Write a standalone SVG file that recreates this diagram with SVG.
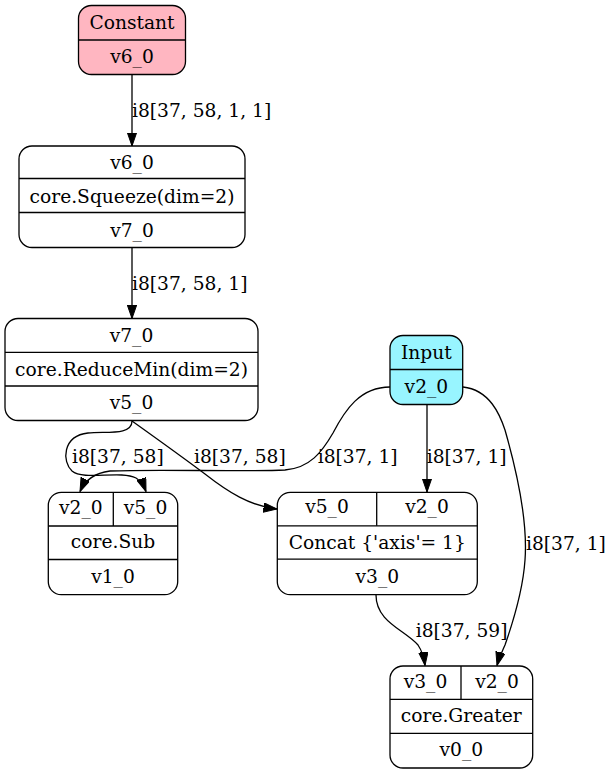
<svg xmlns="http://www.w3.org/2000/svg" width="611" height="774" viewBox="0 0 611 774">
  <style>
    text { font-family: "DejaVu Serif", "Liberation Serif", serif; font-size: 18.67px; fill: #000; }
    .c { text-anchor: middle; }
    .box { stroke: #000; stroke-width: 1.3; fill: #fff; }
    .sep { stroke: #000; stroke-width: 1.3; fill: none; }
    .edge { stroke: #000; stroke-width: 1.3; fill: none; marker-end: url(#arrow); }
    .const { fill: #ffb6c1; }
    .input { fill: #98f5ff; }
  </style>
  <defs>
    <marker id="arrow" markerUnits="userSpaceOnUse" markerWidth="14" markerHeight="10" refX="13.5" refY="4.7" orient="auto">
      <path d="M0,0 L13.5,4.7 L0,9.4 z" fill="#000" stroke="#000" stroke-width="1"/>
    </marker>
  </defs>

  <rect width="611" height="774" fill="#fff"/>

  <!-- connectors -->
  <g id="edges">
    <path class="edge" d="M132,74 L132,146"/>
    <text x="132" y="116.7">i8[37, 58, 1, 1]</text>

    <path class="edge" d="M132,247.5 L132,318.5"/>
    <text x="132" y="289.5">i8[37, 58, 1]</text>

    <path class="edge" d="M132,421 C132,436 105,431 88,433 C62,436 62,462 72,471 C84,481 120,470 136,478 C141,481 144,486 146,491.5"/>
    <text x="72" y="463.3">i8[37, 58]</text>

    <path class="edge" d="M132,421 C160,441 185,459 205,474 C228,492 250,506 277,509"/>
    <text x="194" y="463.3">i8[37, 58]</text>

    <path class="edge" d="M390,387 C360,387 345,410 333,433 C322,452 310,468 285,470 C240,472 160,469 110,471 C95,473 85,480 80,491.5"/>
    <text x="317.7" y="463.3">i8[37, 1]</text>

    <path class="edge" d="M427,404 L427,492"/>
    <text x="426.7" y="463.3">i8[37, 1]</text>

    <path class="edge" d="M463,387 C490,390 500,415 505,430 C515,465 528,520 525,560 C523,590 512,625 505,645 C502,652 499,658 497,665.5"/>
    <text x="526" y="550">i8[37, 1]</text>

    <path class="edge" d="M376,595 C376,622 405,630 418,645 C422,651 424,657 425,665.5"/>
    <text x="415.7" y="636.7">i8[37, 59]</text>
  </g>

  <!-- Constant -->
  <g id="constant">
    <rect class="box const" x="78.5" y="5.5" width="107" height="69" rx="13" ry="13"/>
    <line class="sep" x1="78.5" y1="40" x2="185.5" y2="40"/>
    <text class="c" x="132" y="29.3">Constant</text>
    <text class="c" x="132" y="63.3">v6_0</text>
  </g>

  <!-- Squeeze -->
  <g id="squeeze">
    <rect class="box" x="19" y="146" width="226" height="101.5" rx="13" ry="13"/>
    <line class="sep" x1="19" y1="178.5" x2="245" y2="178.5"/>
    <line class="sep" x1="19" y1="212.5" x2="245" y2="212.5"/>
    <text class="c" x="132" y="169.3">v6_0</text>
    <text class="c" x="132" y="203.3">core.Squeeze(dim=2)</text>
    <text class="c" x="132" y="236.7">v7_0</text>
  </g>

  <!-- ReduceMin -->
  <g id="reducemin">
    <rect class="box" x="5" y="318.5" width="253" height="102" rx="13" ry="13"/>
    <line class="sep" x1="5" y1="352.3" x2="258" y2="352.3"/>
    <line class="sep" x1="5" y1="386" x2="258" y2="386"/>
    <text class="c" x="131.5" y="341.7">v7_0</text>
    <text class="c" x="131.5" y="376">core.ReduceMin(dim=2)</text>
    <text class="c" x="131.5" y="409.3">v5_0</text>
  </g>

  <!-- Input -->
  <g id="input">
    <rect class="box input" x="390" y="335.5" width="72.7" height="69" rx="13" ry="13"/>
    <line class="sep" x1="390" y1="369.5" x2="462.7" y2="369.5"/>
    <text class="c" x="426.4" y="359.3">Input</text>
    <text class="c" x="426.4" y="392.7">v2_0</text>
  </g>

  <!-- Sub -->
  <g id="sub">
    <rect class="box" x="48.3" y="492.3" width="129.4" height="102.4" rx="13" ry="13"/>
    <line class="sep" x1="113.3" y1="492.3" x2="113.3" y2="526"/>
    <line class="sep" x1="48.3" y1="526" x2="177.7" y2="526"/>
    <line class="sep" x1="48.3" y1="559.5" x2="177.7" y2="559.5"/>
    <text class="c" x="80.8" y="514.3">v2_0</text>
    <text class="c" x="145.5" y="514.3">v5_0</text>
    <text class="c" x="113" y="548.3">core.Sub</text>
    <text class="c" x="113" y="583.3">v1_0</text>
  </g>

  <!-- Concat -->
  <g id="concat">
    <rect class="box" x="277.3" y="492.3" width="200" height="102.4" rx="13" ry="13"/>
    <line class="sep" x1="376.7" y1="492.3" x2="376.7" y2="525.8"/>
    <line class="sep" x1="277.3" y1="525.8" x2="477.3" y2="525.8"/>
    <line class="sep" x1="277.3" y1="559.2" x2="477.3" y2="559.2"/>
    <text class="c" x="327" y="513.3">v5_0</text>
    <text class="c" x="427" y="513.3">v2_0</text>
    <text class="c" x="377.3" y="549.3">Concat {'axis'= 1}</text>
    <text class="c" x="377.3" y="583.3">v3_0</text>
  </g>

  <!-- Greater -->
  <g id="greater">
    <rect class="box" x="390" y="666" width="142.7" height="102" rx="13" ry="13"/>
    <line class="sep" x1="461" y1="666" x2="461" y2="699.3"/>
    <line class="sep" x1="390" y1="699.3" x2="532.7" y2="699.3"/>
    <line class="sep" x1="390" y1="733.3" x2="532.7" y2="733.3"/>
    <text class="c" x="425.5" y="688.3">v3_0</text>
    <text class="c" x="497" y="688.3">v2_0</text>
    <text class="c" x="461.3" y="721.7">core.Greater</text>
    <text class="c" x="461.3" y="756">v0_0</text>
  </g>
</svg>
